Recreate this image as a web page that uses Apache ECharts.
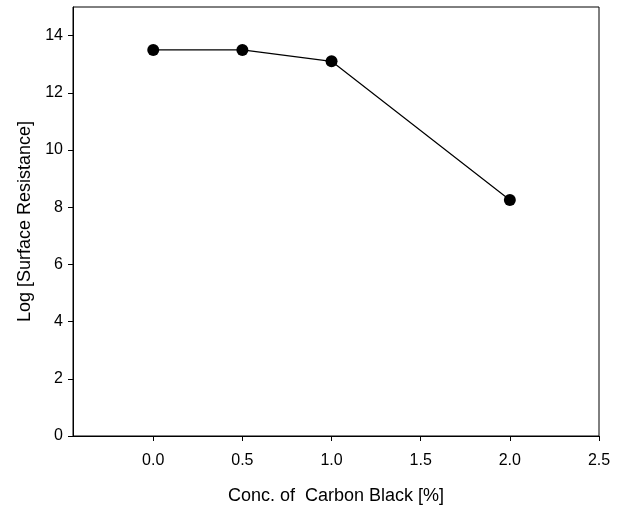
<!DOCTYPE html>
<html>
<head>
<meta charset="utf-8">
<script src="https://cdn.jsdelivr.net/npm/echarts@6/dist/echarts.min.js"></script>
<style>html,body{margin:0;padding:0;background:#fff}#c{width:624px;height:508px}</style>
</head>
<body>
<div id="c"></div>
<script>
const concentrations = [0.0, 0.5, 1.0, 2.0];
const logResistance = [13.5, 13.5, 13.1, 8.25];
const xTicks = [0.0, 0.5, 1.0, 1.5, 2.0, 2.5];
const yTicks = [0, 2, 4, 6, 8, 10, 12, 14];

const chart = echarts.init(document.getElementById('c'), null, {renderer: 'canvas'});
const font = 'Liberation Sans, Arial, sans-serif';
chart.setOption({
  animation: false,
  grid: {left: 73, right: 25, top: 7, bottom: 72, show: true, borderColor: '#000', borderWidth: 1, containLabel: false, outerBoundsMode: 'none'},
  xAxis: {
    type: 'value', min: -0.45, max: 2.5,
    name: 'Conc. of  Carbon Black [%]', nameLocation: 'middle', nameGap: 51,
    nameTextStyle: {fontFamily: font, fontSize: 18, color: '#000'},
    axisLine: {show: true, onZero: false, lineStyle: {color: '#000', width: 1}},
    axisTick: {show: true, customValues: xTicks, length: 5, inside: false, lineStyle: {color: '#000'}},
    axisLabel: {customValues: xTicks, formatter: v => v.toFixed(1), fontFamily: font, fontSize: 16, color: '#000', margin: 17},
    splitLine: {show: false}
  },
  yAxis: {
    type: 'value', min: 0, max: 15,
    name: 'Log [Surface Resistance]', nameLocation: 'middle', nameGap: 39,
    nameTextStyle: {fontFamily: font, fontSize: 18, color: '#000'},
    axisLine: {show: true, onZero: false, lineStyle: {color: '#000', width: 1}},
    axisTick: {show: true, customValues: yTicks, length: 5, inside: false, lineStyle: {color: '#000'}},
    axisLabel: {customValues: yTicks, fontFamily: font, fontSize: 16, color: '#000', margin: 10},
    splitLine: {show: false}
  },
  series: [{
    type: 'line',
    data: concentrations.map((c, i) => [c, logResistance[i]]),
    symbol: 'circle', symbolSize: 12,
    itemStyle: {color: '#000'},
    lineStyle: {color: '#000', width: 1.2}
  }]
});
</script>
</body>
</html>
